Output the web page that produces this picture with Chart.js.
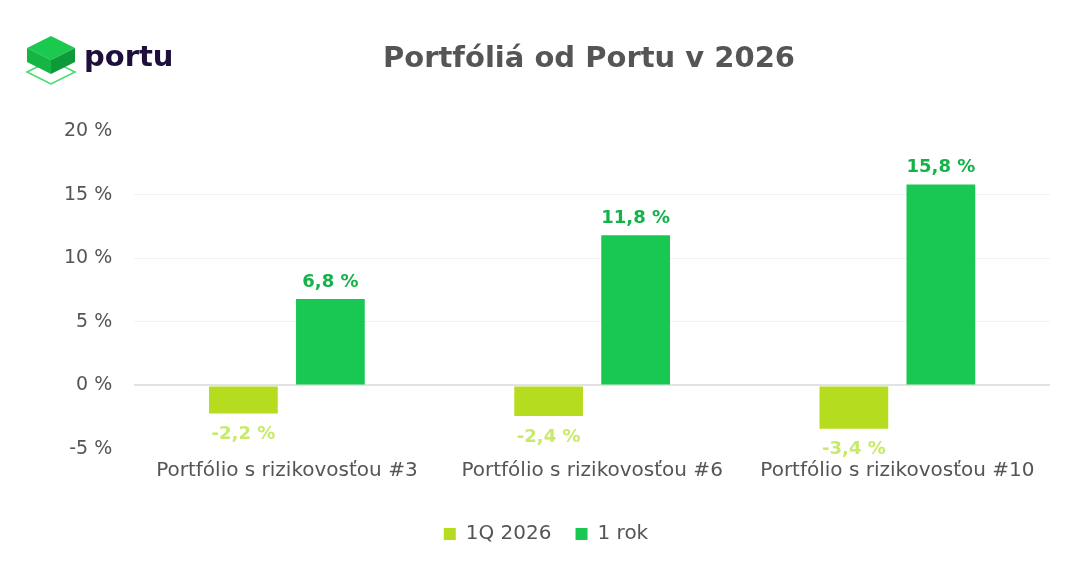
<!DOCTYPE html>
<html>
<head>
<meta charset="utf-8">
<script src="https://cdn.jsdelivr.net/npm/chart.js@4"></script>
<style>
  html, body { margin: 0; padding: 0; background: #fff; }
  #wrap { position: relative; width: 1090px; height: 566px; }
  #logo { position: absolute; left: 24px; top: 28px; }
  #title { position: absolute; left: 383px; width: 400px; top: 40px; text-align: center;
    font: bold 29px 'DejaVu Sans', sans-serif; color: #555555; white-space: nowrap; }
</style>
</head>
<body>
<div id="wrap">
  <canvas id="myChart" width="1090" height="566"></canvas>
  <svg id="logo" width="170" height="64" viewBox="0 0 170 64">
    <polygon points="3,44 27,32 51,44 27,56" fill="none" stroke="#3ddc6d" stroke-width="1.5"/>
    <polygon points="3,20 27,8 51,20 27,32" fill="#1cc94f"/>
    <polygon points="3,20 27,32 27,46 3,34" fill="#15b544"/>
    <polygon points="51,20 27,32 27,46 51,34" fill="#0e9a38"/>
    <text x="60" y="38" font-family="'DejaVu Sans', sans-serif" font-weight="bold" font-size="29" fill="#1e0f3c">portu</text>
  </svg>
  <div id="title">Portfóliá od Portu v 2026</div>
</div>
<script>
const categories = ['Portfólio s rizikovosťou #3', 'Portfólio s rizikovosťou #6', 'Portfólio s rizikovosťou #10'];
const quarter = [-2.2, -2.4, -3.4];
const year = [6.8, 11.8, 15.8];
const yTicks = [-5, 0, 5, 10, 15, 20];

const FONT = "'DejaVu Sans', sans-serif";

// value labels above / below the bars
const barLabels = {
  id: 'barLabels',
  afterDatasetsDraw(chart) {
    const ctx = chart.ctx;
    chart.data.datasets.forEach((ds, i) => {
      chart.getDatasetMeta(i).data.forEach((bar, j) => {
        const v = ds.data[j];
        ctx.save();
        ctx.font = "bold 18px " + FONT;
        ctx.fillStyle = ds.labelColor;
        ctx.textAlign = 'center';
        if (v >= 0) {
          ctx.textBaseline = 'bottom';
          ctx.fillText(v.toFixed(1).replace('.', ',') + ' %', bar.x, bar.y - 8);
        } else {
          ctx.textBaseline = 'top';
          ctx.fillText(v.toFixed(1).replace('.', ',') + ' %', bar.x, bar.y + 12);
        }
        ctx.restore();
      });
    });
  }
};

new Chart(document.getElementById('myChart'), {
  type: 'bar',
  data: {
    labels: categories,
    datasets: [
      { label: '1Q 2026', data: quarter, backgroundColor: '#b5dc1f', labelColor: '#c8ea6a',
        barPercentage: 0.79, categoryPercentage: 0.57 },
      { label: '1 rok', data: year, backgroundColor: '#18c852', labelColor: '#13b34a',
        barPercentage: 0.79, categoryPercentage: 0.57 }
    ]
  },
  options: {
    responsive: false,
    animation: false,
    layout: { padding: { left: 42, right: 40, top: 131, bottom: 12 } },
    plugins: {
      title: { display: false },
      legend: {
        position: 'bottom',
        labels: {
          color: '#555555',
          font: { family: FONT, size: 20 },
          boxWidth: 12, boxHeight: 12, padding: 24
        }
      },
      tooltip: { enabled: false }
    },
    scales: {
      x: {
        grid: { display: false },
        border: { display: false },
        afterFit(axis) { axis.height += 15; },
        ticks: { color: '#555555', font: { family: FONT, size: 20 }, padding: 2 }
      },
      y: {
        min: -5, max: 20,
        afterBuildTicks(axis) { axis.ticks = yTicks.map(v => ({ value: v })); },
        border: { display: false },
        grid: {
          color: ctx => ctx.tick && ctx.tick.value === 0 ? '#e2e2e2' : (ctx.tick && (ctx.tick.value === 20 || ctx.tick.value === -5) ? 'rgba(0,0,0,0)' : '#f2f2f2'),
          lineWidth: ctx => ctx.tick && ctx.tick.value === 0 ? 2 : 1,
          drawTicks: false
        },
        ticks: {
          color: '#555555',
          font: { family: FONT, size: 19 },
          padding: 22,
          callback: v => v + ' %'
        }
      }
    }
  },
  plugins: [barLabels]
});
</script>
</body>
</html>
